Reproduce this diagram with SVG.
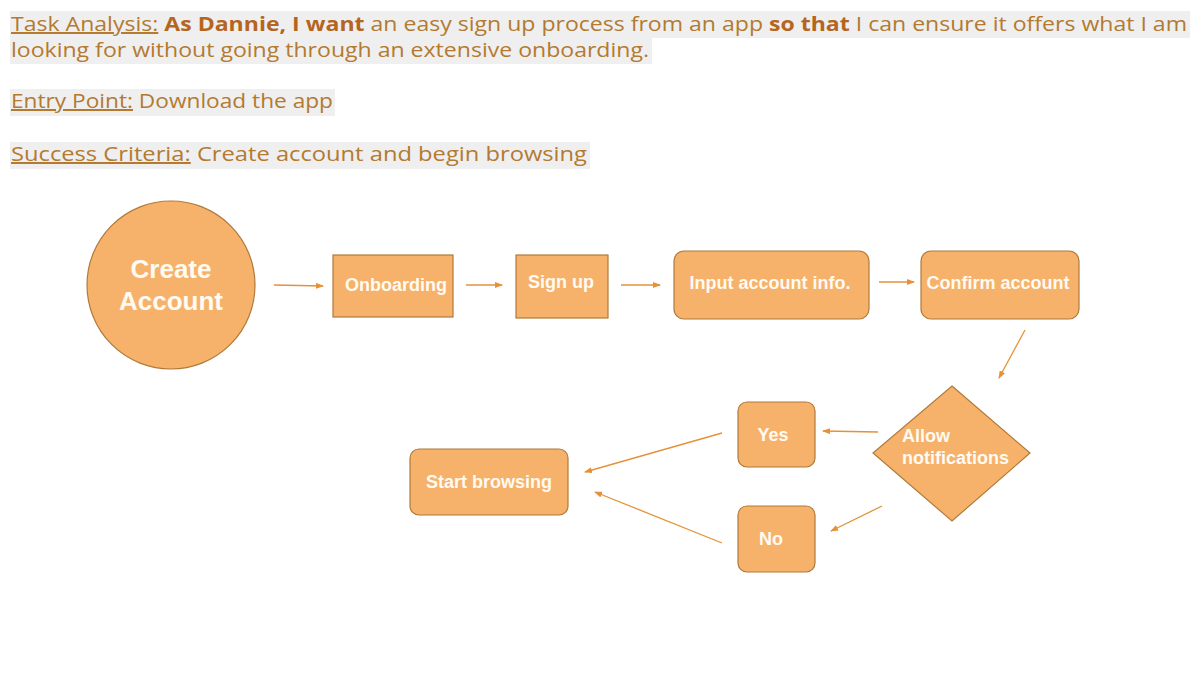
<svg xmlns="http://www.w3.org/2000/svg" width="1200" height="675" viewBox="0 0 1200 675">
<defs>
<marker id="ah" markerWidth="8" markerHeight="6" refX="7" refY="3" orient="auto" markerUnits="userSpaceOnUse">
<path d="M0,0 L8,3 L0,6 Z" fill="#e69138"/>
</marker>
<style>
.hdr{font-family:"Open Sans","Noto Sans",sans-serif;font-size:20px;fill:#b37a30}
.u{text-decoration:underline}
.b{font-weight:bold;fill:#b5651d}
.hl{fill:#efefef}
.shape{fill:#f6b26b;stroke:#b07a3a;stroke-width:1.2}
.lbl{font-family:"Liberation Sans",Arial,sans-serif;font-weight:bold;fill:#fffaf2;text-anchor:middle}
.s16{font-size:18px}
.st{text-anchor:start}
.con{stroke:#e69138;stroke-width:1.3;fill:none;marker-end:url(#ah)}
</style>
</defs>
<rect width="1200" height="675" fill="#ffffff"/>
<g id="header">
<rect class="hl" x="10" y="11" width="1180" height="27"/>
<rect class="hl" x="10" y="38" width="642" height="26"/>
<rect class="hl" x="10" y="89" width="325" height="27"/>
<rect class="hl" x="10" y="142" width="580" height="27"/>
<text class="hdr" x="11" y="31" textLength="1176" lengthAdjust="spacingAndGlyphs"><tspan class="u">Task Analysis:</tspan> <tspan class="b">As Dannie, I want</tspan> an easy sign up process from an app <tspan class="b">so that</tspan> I can ensure it offers what I am</text>
<text class="hdr" x="11" y="57" textLength="638" lengthAdjust="spacingAndGlyphs">looking for without going through an extensive onboarding.</text>
<text class="hdr" x="11" y="108" textLength="322" lengthAdjust="spacingAndGlyphs"><tspan class="u">Entry Point:</tspan> Download the app</text>
<text class="hdr" x="11" y="161" textLength="576" lengthAdjust="spacingAndGlyphs"><tspan class="u">Success Criteria:</tspan> Create account and begin browsing</text>
</g>
<g id="create-account">
<circle class="shape" cx="171" cy="285" r="84"/>
<text class="lbl" x="171" y="278" font-size="26">Create</text>
<text class="lbl" x="171" y="310" font-size="26">Account</text>
</g>
<g id="onboarding">
<rect class="shape" x="333" y="255" width="120" height="62"/>
<text class="lbl s16" x="396" y="291">Onboarding</text>
</g>
<g id="sign-up">
<rect class="shape" x="516" y="255" width="92" height="63"/>
<text class="lbl s16" x="561" y="288">Sign up</text>
</g>
<g id="input-account-info">
<rect class="shape" x="674" y="251" width="195" height="68" rx="10"/>
<text class="lbl s16" x="770" y="289">Input account info.</text>
</g>
<g id="confirm-account">
<rect class="shape" x="921" y="251" width="158" height="68" rx="10"/>
<text class="lbl s16" x="998" y="289">Confirm account</text>
</g>
<g id="allow-notifications">
<polygon class="shape" points="952,386 1030,453 952,521 873,453"/>
<text class="lbl s16 st" x="902" y="442">Allow</text>
<text class="lbl s16 st" x="902" y="464">notifications</text>
</g>
<g id="yes">
<rect class="shape" x="738" y="402" width="77" height="65" rx="9"/>
<text class="lbl s16" x="773" y="441">Yes</text>
</g>
<g id="no">
<rect class="shape" x="738" y="506" width="77" height="66" rx="9"/>
<text class="lbl s16" x="771" y="545">No</text>
</g>
<g id="start-browsing">
<rect class="shape" x="410" y="449" width="158" height="66" rx="9"/>
<text class="lbl s16" x="489" y="488">Start browsing</text>
</g>
<g id="connectors">
<line class="con" x1="274" y1="285" x2="323" y2="286"/>
<line class="con" x1="466" y1="285" x2="502" y2="285"/>
<line class="con" x1="621" y1="285" x2="660" y2="285"/>
<line class="con" x1="879" y1="282" x2="914" y2="282"/>
<line class="con" x1="1025" y1="330" x2="999" y2="378"/>
<line class="con" x1="878" y1="432" x2="823" y2="431"/>
<line class="con" x1="722" y1="433" x2="585" y2="472"/>
<line class="con" x1="882" y1="506" x2="831" y2="531"/>
<line class="con" x1="722" y1="543" x2="595" y2="492"/>
</g>
</svg>
